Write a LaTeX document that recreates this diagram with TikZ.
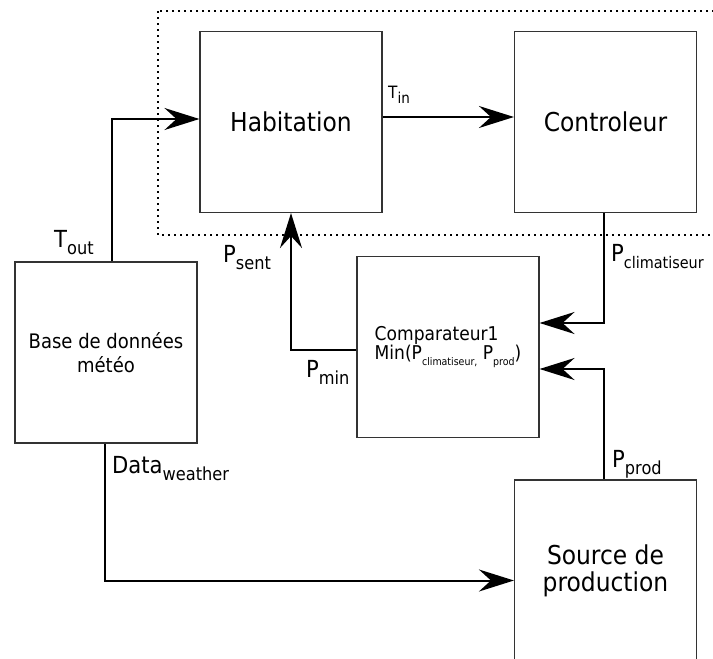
\documentclass[tikz,border=0pt]{standalone}
\usepackage{fontspec}
\setmainfont{DejaVu Sans Condensed}
\usetikzlibrary{positioning}
\usetikzlibrary{arrows.meta}

% signal name with a lowered index
\newcommand{\sig}[3]{#2\raisebox{-.3em}{\fontsize{#1}{#1}\selectfont #3}}

\begin{document}
\begin{tikzpicture}[x=1pt, y=-1pt,
    block/.style={draw=black!80, line width=1.1pt, minimum width=182pt, minimum height=181pt,
                  inner sep=0pt, align=center, font=\fontsize{26}{27}\selectfont},
    link/.style={line width=2pt, -{Stealth[length=35pt, width=22pt, inset=12pt]}},
    lbl/.style={anchor=base west, inner sep=0pt, font=\fontsize{23.5}{26}\selectfont}]
    \useasboundingbox (0,0) rectangle (713,659);

    % Dotted frame round the closed loop
    \draw[line width=1.8pt, dash pattern=on 1.8pt off 4.2pt] (158,11) rectangle (740,235);

    % Blocks
    \node[block] (hab) at (291,122) {Habitation};
    \node[block] (ctl) at (605.5,122) {Controleur};
    \node[block, font=\fontsize{20}{24}\selectfont] (meteo) at (106,352.5) {Base de données\\météo};
    \node[block, align=left, font=\fontsize{19}{18}\selectfont] (comp) at (448,347)
        {Comparateur1\\Min(\sig{10.5pt}{P}{climatiseur,} \sig{10.5pt}{P}{prod})};
    \node[block] (src) at (605.5,570.5) {Source de\\production};

    % Connections
    \draw[link] ([xshift=6pt]meteo.north) |- ([yshift=3pt]hab.west);
    \draw[link] ([yshift=5pt]hab.east) -- ([yshift=5pt]ctl.west);
    \draw[link] ([xshift=-1.5pt]ctl.south) |- ([yshift=24pt]comp.east);
    \draw[link] ([xshift=-1.5pt]src.north) |- ([yshift=-22pt]comp.east);
    \draw[link] ([yshift=-3pt]comp.west) -| (hab.south);
    \draw[link] ([xshift=-1pt]meteo.south) |- ([yshift=-10pt]src.west);

    % Signal labels
    \node[lbl] (ltout) at (54,247) {\sig{18pt}{T}{out}};
    \node[lbl, font=\fontsize{17}{17}\selectfont] (ltin) at (388,98) {\sig{15pt}{T}{in}};
    \node[lbl] (lsent) at (223,262) {\sig{18pt}{P}{sent}};
    \node[lbl] (lclim) at (611,261) {\sig{16pt}{P}{climatiseur}};
    \node[lbl] (lmin) at (306,377) {\sig{18pt}{P}{min}};
    \node[lbl] (ldata) at (112,473) {\sig{18pt}{Data}{weather}};
    \node[lbl] (lprod) at (612,467) {\sig{18pt}{P}{prod}};
\end{tikzpicture}
\end{document}
